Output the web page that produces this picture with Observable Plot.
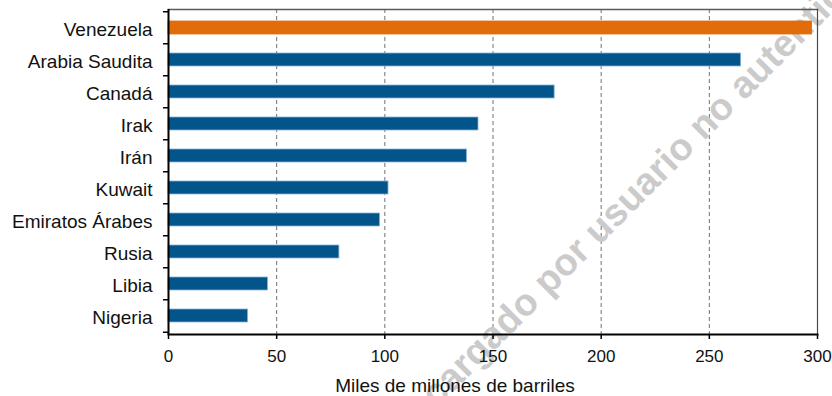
<!DOCTYPE html>
<html>
<head>
<meta charset="utf-8">
<script src="https://cdn.jsdelivr.net/npm/d3@7"></script>
<script src="https://cdn.jsdelivr.net/npm/@observablehq/plot@0.6"></script>
<style>
  html, body { margin: 0; padding: 0; background: #fff; }
  svg { display: block; }
</style>
</head>
<body>
<div id="chart"></div>
<script>
const countries = ["Venezuela", "Arabia Saudita", "Canadá", "Irak", "Irán", "Kuwait", "Emiratos Árabes", "Rusia", "Libia", "Nigeria"];
const reserves = [297.5, 264.7, 178.5, 143.3, 138.0, 101.7, 97.8, 79.0, 46.0, 36.8];
const highlighted = ["Venezuela"];
const xTicks = [0, 50, 100, 150, 200, 250, 300];
const gridTicks = [50, 100, 150, 200, 250, 300];
const axisLabel = "Miles de millones de barriles";
const watermark = ["Descargado por usuario no autenticado"];

const data = countries.map((c, i) => ({country: c, value: reserves[i], hi: highlighted.includes(c)}));

const W = 832, H = 396, mL = 168, mR = 15, mT = 9, mB = 62;
const step = (H - mT - mB) / countries.length;

const chart = Plot.plot({
  width: W,
  height: H,
  marginLeft: mL,
  marginRight: mR,
  marginTop: mT,
  marginBottom: mB,
  style: {fontFamily: "'Liberation Sans', Arial, sans-serif", background: "#fff", overflow: "visible"},
  x: {domain: [0, 300]},
  y: {domain: countries, paddingInner: 0.58, paddingOuter: 0.29},
  marks: [
    Plot.gridX(gridTicks, {stroke: "#707070", strokeOpacity: 1, strokeWidth: 1, strokeDasharray: "4,3"}),
    Plot.text(watermark, {
      text: d => d, frameAnchor: "top-left", dx: 464, dy: 186, rotate: -45,
      fontSize: 38, fontWeight: "bold", fill: "#cbcbcb", textAnchor: "middle", lineAnchor: "middle"
    }),
    Plot.frame({anchor: "top", stroke: "#5a5a5a", strokeWidth: 1.5}),
    Plot.ruleX([300], {stroke: "#4a4a4a", strokeWidth: 1.2}),
    Plot.barX(data, {
      x: "value", y: "country",
      fill: d => d.hi ? "#E36C0A" : "#02558B",
      stroke: d => d.hi ? "#E36C0A" : "#8db3d3",
      strokeWidth: 0.8
    }),
    Plot.ruleX([0], {stroke: "#000", strokeWidth: 2}),
    Plot.frame({anchor: "bottom", stroke: "#000", strokeWidth: 2}),
    Plot.axisY({tickSize: 0, tickPadding: 16, fontSize: 19, fill: "#111", dy: 2, label: null}),
    Plot.axisY({tickSize: 5, text: null, dy: -step / 2, stroke: "#000", strokeWidth: 1.5, label: null}),
    Plot.axisY([countries[countries.length - 1]], {tickSize: 5, text: null, dy: step / 2, stroke: "#000", strokeWidth: 1.5, label: null}),
    Plot.axisX(xTicks, {tickSize: 5, tickPadding: 10.5, fontSize: 17, fill: "#111", stroke: "#000", strokeWidth: 1.5, label: null}),
    Plot.text([axisLabel], {text: d => d, frameAnchor: "bottom", dx: -38, dy: 57, lineAnchor: "bottom", fontSize: 19, fill: "#111"})
  ]
});
document.getElementById("chart").appendChild(chart);
</script>
</body>
</html>
